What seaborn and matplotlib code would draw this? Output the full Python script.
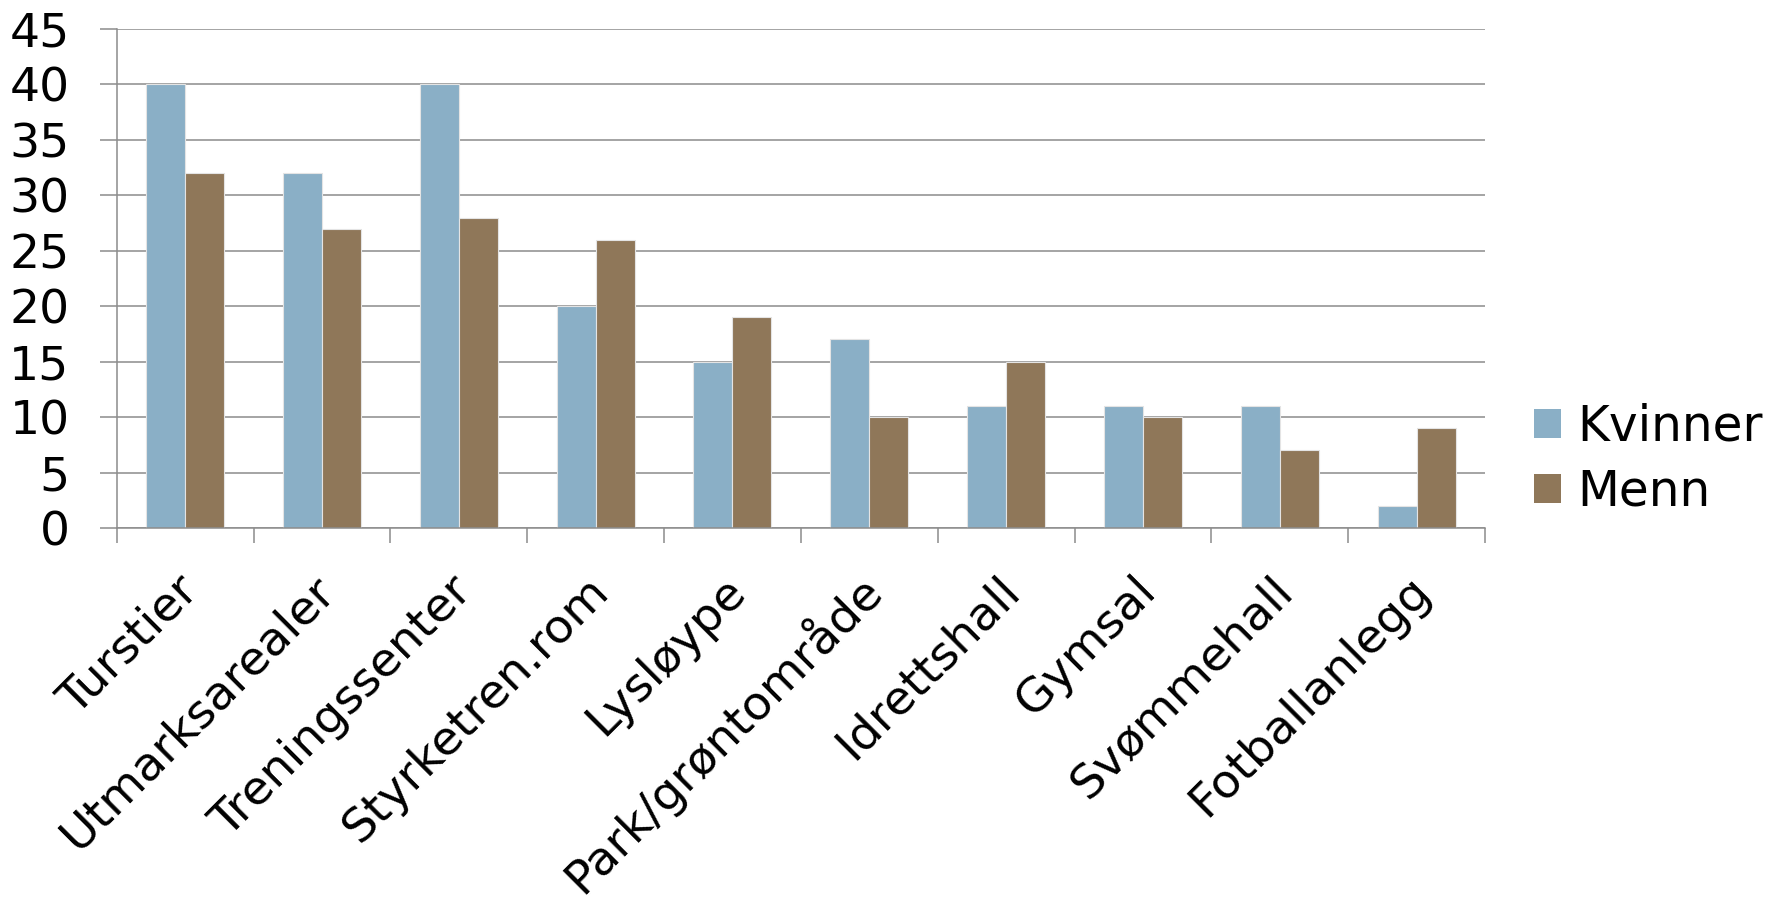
import numpy as np
import pandas as pd
import matplotlib
matplotlib.use("Agg")
import matplotlib.pyplot as plt
import matplotlib.transforms as mtransforms
from matplotlib.patches import Patch
import seaborn as sns

# ---- data ----
categories = ["Turstier", "Utmarksarealer", "Treningssenter", "Styrketren.rom", "Lysløype",
              "Park/grøntområde", "Idrettshall", "Gymsal", "Svømmehall", "Fotballanlegg"]
kvinner = [40, 32, 40, 20, 15, 17, 11, 11, 11, 2]
menn = [32, 27, 28, 26, 19, 10, 15, 10, 7, 9]
series = ["Kvinner", "Menn"]
y_ticks = [0, 5, 10, 15, 20, 25, 30, 35, 40, 45]

colors = ["#8AAFC6", "#8F7759"]
gray = "#8C8C8C"

df = pd.DataFrame({
    "Anlegg": categories * 2,
    "Andel": kvinner + menn,
    "Kjønn": [series[0]] * len(categories) + [series[1]] * len(categories),
})

sns.set_theme(style="white")
plt.rcParams["font.family"] = ["DejaVu Sans"]
plt.rcParams["text.color"] = "black"

fig = plt.figure(figsize=(17.76, 9.02), dpi=100)
ax = fig.add_axes([116.7 / 1776, 1 - 528 / 902, (1485 - 116.7) / 1776, (528 - 29) / 902])

sns.barplot(data=df, x="Anlegg", y="Andel", hue="Kjønn", order=categories, hue_order=series,
            palette=colors, width=0.57, gap=0, saturation=1, edgecolor="#E4E4E4", linewidth=0.8,
            errorbar=None, legend=False, ax=ax)

ax.set_xlim(-0.5, len(categories) - 0.5)
ax.set_ylim(0, 45)
ax.set_yticks(y_ticks)
ax.set_yticklabels([str(v) for v in y_ticks])
ax.set_xlabel("")
ax.set_ylabel("")

ax.set_axisbelow(True)
ax.yaxis.grid(True, color=gray, linewidth=1.1)
ax.xaxis.grid(False)

for side in ["top", "right"]:
    ax.spines[side].set_visible(False)
for side in ["left", "bottom"]:
    ax.spines[side].set_color(gray)
    ax.spines[side].set_linewidth(1.1)

# category labels at centres, tick marks at boundaries
ax.set_xticks(range(len(categories)))
ax.set_xticklabels(categories, rotation=45, ha="right", va="baseline",
                   rotation_mode="anchor", fontsize=34, color="black")
ax.set_xticks(np.arange(-0.5, len(categories), 1.0), minor=True)
ax.tick_params(axis="x", which="major", length=0, pad=46.5)
ax.tick_params(axis="x", which="minor", length=11, width=1.1, color=gray, direction="out", bottom=True)
ax.tick_params(axis="y", which="major", length=12, width=1.1, color=gray, direction="out",
               left=True, pad=22, labelsize=34, labelcolor="black")

offset = mtransforms.ScaledTranslation(0.15, 0, fig.dpi_scale_trans)
for lab in ax.get_xticklabels():
    lab.set_transform(lab.get_transform() + offset)

handles = [Patch(facecolor=c, edgecolor="none") for c in colors]
fig.legend(handles, series, loc="center left", bbox_to_anchor=(1534 / 1776, 1 - 459 / 902),
           frameon=False, fontsize=35, handlelength=0.556, handleheight=0.556,
           handletextpad=0.33, labelspacing=0.35, borderpad=0, borderaxespad=0,
           labelcolor="black")

fig.savefig("out.png", dpi=100, facecolor="white")
